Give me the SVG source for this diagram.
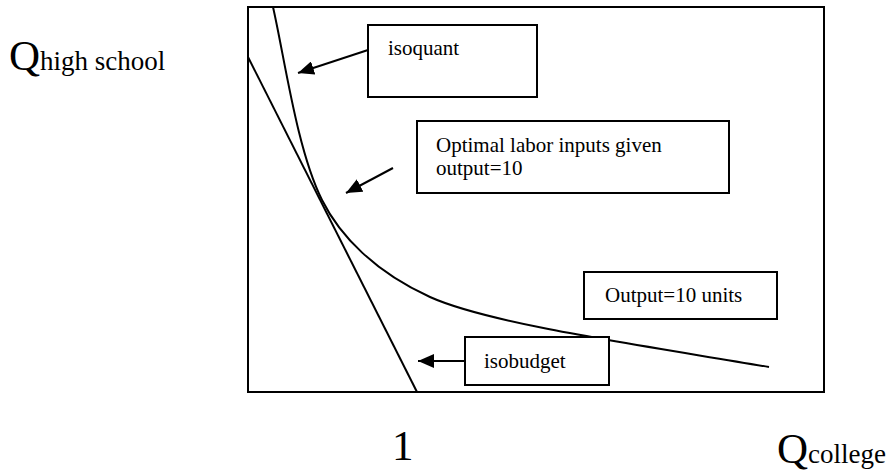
<svg xmlns="http://www.w3.org/2000/svg" width="890" height="473" viewBox="0 0 890 473">
  <style>
    .txt { font-family: "Liberation Serif", "Times New Roman", serif; fill: #000; }
    .lbl { font-size: 21px; }
    .axis { font-size: 43px; }
    .sub { font-size: 27px; }
    .box { fill: #fff; stroke: #000; stroke-width: 2; }
    .line { fill: none; stroke: #000; stroke-width: 2; }
  </style>
  <defs>
    <marker id="head" viewBox="0 0 16 14" refX="16" refY="7" markerWidth="16" markerHeight="14" markerUnits="userSpaceOnUse" orient="auto">
      <path d="M0,0 L16,7 L0,14 Z" fill="#000"/>
    </marker>
  </defs>

  <!-- plot frame -->
  <rect id="frame" x="248" y="7" width="576" height="385" fill="#fff" stroke="#000" stroke-width="2"/>

  <!-- curves -->
  <g id="curves">
    <path id="isobudget-line" class="line" d="M248,57 L417,392"/>
    <path id="isoquant-curve" class="line" d="M273,7 C285,60 297,150 322,200 C340,236 375,272 430,297 C490,324 640,345 769,367"/>
  </g>

  <!-- callout boxes -->
  <g id="isoquant">
    <rect class="box" x="368" y="25" width="169" height="72"/>
    <text class="txt lbl" x="388" y="55">isoquant</text>
  </g>
  <g id="optimal">
    <rect class="box" x="417" y="121" width="312" height="72"/>
    <text class="txt lbl" x="436" y="152">Optimal labor inputs given</text>
    <text class="txt lbl" x="436" y="175">output=10</text>
  </g>
  <g id="output">
    <rect class="box" x="584" y="272" width="193" height="47"/>
    <text class="txt lbl" x="605" y="302">Output=10 units</text>
  </g>
  <g id="isobudget">
    <rect class="box" x="465" y="337" width="144" height="48"/>
    <text class="txt lbl" x="484" y="368">isobudget</text>
  </g>

  <!-- pointers from the callouts -->
  <g id="connectors">
    <line class="line" x1="368" y1="50" x2="298" y2="73" marker-end="url(#head)"/>
    <line class="line" x1="393" y1="168" x2="346" y2="193" marker-end="url(#head)"/>
    <line class="line" x1="465" y1="361" x2="418" y2="361" marker-end="url(#head)"/>
  </g>

  <!-- axis labels -->
  <g id="y-label">
    <text class="txt axis" x="9" y="70">Q<tspan class="sub">high school</tspan></text>
  </g>
  <g id="x-tick">
    <text class="txt axis" x="392" y="460">1</text>
  </g>
  <g id="x-label">
    <text class="txt axis" x="777" y="463">Q<tspan class="sub">college</tspan></text>
  </g>
</svg>
